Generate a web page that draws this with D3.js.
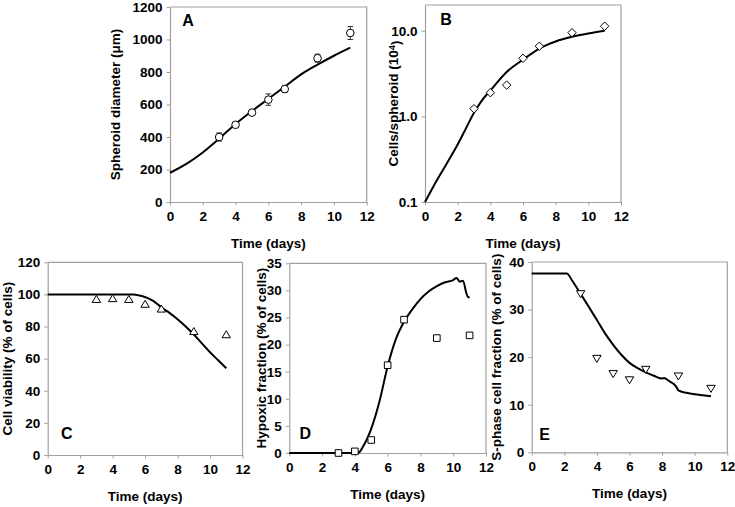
<!DOCTYPE html>
<html>
<head>
<meta charset="utf-8">
<script src="https://cdn.jsdelivr.net/npm/d3@7"></script>
<style>
  html, body { margin: 0; padding: 0; background: #fff; }
  svg text { font-family: "Liberation Sans", Arial, sans-serif; font-weight: bold; fill: #000; }
</style>
</head>
<body>
<svg id="chart" width="735" height="507"></svg>
<script>
// ---------------- DATA ----------------
const obsDays = [3, 4, 5, 6, 7, 9, 11];

// Panel A: spheroid diameter (µm)
const diameterObs = [400, 475, 550, 630, 695, 885, 1040];
const diameterErr = [25, 10, 12, 35, 20, 25, 40];
const diameterModelT = [0, 1, 2, 3, 4, 5, 6, 7, 8, 9, 10, 11];
const diameterModel = [180, 235, 305, 390, 480, 560, 635, 710, 785, 845, 900, 950];

// Panel B: cells per spheroid (10^4)
const cellsObs = [1.23, 1.89, 2.32, 4.77, 6.6, 9.5, 11.3];
const cellsModelT = [0, 0.5, 1, 1.5, 2, 2.5, 3, 3.5, 4, 5, 6, 7, 8, 9, 10, 11];
const cellsModel = [0.1, 0.15, 0.22, 0.32, 0.47, 0.72, 1.1, 1.55, 2.0, 3.3, 4.6, 6.2, 7.5, 8.5, 9.3, 10.0];

// Panel C: cell viability (% of cells)
const viabilityObs = [97, 97.5, 97, 94, 91, 77, 75];
const viabilityModelT = [0, 5.3, 5.8, 6.5, 7, 7.5, 8, 8.5, 9, 9.5, 10, 10.5, 11];
const viabilityModel = [100, 100, 99, 96, 92, 88.5, 84.5, 80, 75, 69.5, 64, 59, 54];

// Panel D: hypoxic fraction (% of cells)
const hypoxicObs = [0, 0.3, 2.4, 16.2, 24.6, 21.2, 21.7];
const hypoxicModelT = [0, 4.2, 4.5, 5, 5.5, 6, 6.5, 7, 7.5, 8, 8.5, 9, 9.5, 10, 10.2, 10.4, 10.6, 10.8, 10.9, 11];
const hypoxicModel = [0, 0, 1.2, 4.5, 9.5, 16, 21, 24.2, 26.5, 28.4, 29.8, 30.8, 31.5, 31.9, 32.3, 31.6, 31.8, 29.5, 28.8, 28.7];

// Panel E: S-phase cell fraction (% of cells)
const sphaseObs = [33.3, 19.7, 16.5, 15.2, 17.4, 16.0, 13.4];
const sphaseModelT = [0, 2.15, 2.5, 3, 3.5, 4, 4.5, 5, 5.5, 6, 6.5, 7, 7.5, 8, 8.1, 8.3, 8.5, 8.7, 8.9, 9, 9.5, 10, 10.5, 11];
const sphaseModel = [37.6, 37.6, 36, 33.3, 30.6, 27.8, 25, 22.6, 20.5, 18.8, 17.7, 16.8, 16.1, 15.5, 15.6, 15.3, 14.8, 14.4, 13.6, 13.0, 12.5, 12.2, 12.0, 11.8];

// Tick values
const timeTicks = [0, 2, 4, 6, 8, 10, 12];
const diameterTicks = [0, 200, 400, 600, 800, 1000, 1200];
const cellsTicks = [0.1, 1, 10];
const viabilityTicks = [0, 20, 40, 60, 80, 100, 120];
const hypoxicTicks = [0, 5, 10, 15, 20, 25, 30, 35];
const sphaseTicks = [0, 10, 20, 30, 40];

// ---------------- LAYOUT ----------------
const panels = [
  { letter: "A", x0: 170, x1: 366.7, y0: 7, y1: 202, log: false, yDomain: [0, 1200], yTicks: diameterTicks,
    fmt: d3.format("d"), ylab: "Spheroid diameter (\u03bcm)", ylabX: -55, letterPos: [18, 13],
    obs: diameterObs, err: diameterErr, mt: diameterModelT, mv: diameterModel, marker: "circle" },
  { letter: "B", x0: 425, x1: 621, y0: 5, y1: 202, log: true, yDomain: [0.1, 20], yTicks: cellsTicks,
    fmt: d3.format(".1f"), ylab: "Cells/spheroid (10", sup: "4", ylabX: -31.5, letterPos: [21, 14],
    obs: cellsObs, mt: cellsModelT, mv: cellsModel, marker: "diamond" },
  { letter: "C", x0: 47.7, x1: 242.5, y0: 262.3, y1: 455, log: false, yDomain: [0, 120], yTicks: viabilityTicks,
    fmt: d3.format("d"), ylab: "Cell viability (% of cells)", ylabX: -40.7, letterPos: [19, -22],
    obs: viabilityObs, mt: viabilityModelT, mv: viabilityModel, marker: "triUp" },
  { letter: "D", x0: 289.3, x1: 486, y0: 263.3, y1: 453, log: false, yDomain: [0, 35], yTicks: hypoxicTicks,
    fmt: d3.format("d"), ylab: "Hypoxic fraction (% of cells)", ylabX: -28.3, letterPos: [16, -20],
    obs: hypoxicObs, mt: hypoxicModelT, mv: hypoxicModel, marker: "square" },
  { letter: "E", x0: 531.7, x1: 727.3, y0: 262, y1: 452.3, log: false, yDomain: [0, 40], yTicks: sphaseTicks,
    fmt: d3.format("d"), ylab: "S-phase cell fraction (% of cells)", ylabX: -35.7, letterPos: [13, -18],
    obs: sphaseObs, mt: sphaseModelT, mv: sphaseModel, marker: "triDown" }
];

const svg = d3.select("#chart");
const gray = "#a0a0a0";
const fs = 13.5;

function markerPath(type) {
  const p = d3.path();
  if (type === "diamond") { p.moveTo(0, -4.2); p.lineTo(4.2, 0); p.lineTo(0, 4.2); p.lineTo(-4.2, 0); p.closePath(); }
  else if (type === "triUp") { p.moveTo(0, -3.8); p.lineTo(4.2, 3.2); p.lineTo(-4.2, 3.2); p.closePath(); }
  else if (type === "triDown") { p.moveTo(0, 3.8); p.lineTo(4.2, -3.2); p.lineTo(-4.2, -3.2); p.closePath(); }
  else if (type === "square") { p.rect(-3.3, -3.3, 6.6, 6.6); }
  return p.toString();
}

panels.forEach(P => {
  const x = d3.scaleLinear().domain([0, 12]).range([P.x0, P.x1]);
  const y = (P.log ? d3.scaleLog() : d3.scaleLinear()).domain(P.yDomain).range([P.y1, P.y0]);
  const g = svg.append("g");

  // box (top and right borders)
  g.append("path")
    .attr("d", `M${P.x0},${P.y0}H${P.x1}V${P.y1}`)
    .attr("fill", "none").attr("stroke", gray).attr("stroke-width", 1.2);

  // x axis
  const xa = g.append("g").attr("transform", `translate(0,${P.y1})`)
    .call(d3.axisBottom(x).tickValues(timeTicks).tickSize(3.5).tickSizeOuter(0).tickPadding(6).tickFormat(d3.format("d")));
  // y axis
  const ya = g.append("g").attr("transform", `translate(${P.x0},0)`)
    .call(d3.axisLeft(y).tickValues(P.yTicks).tickSize(3.5).tickSizeOuter(0).tickPadding(4).tickFormat(P.fmt));
  [xa, ya].forEach(a => {
    a.select(".domain").attr("stroke", gray).attr("stroke-width", 1.2);
    a.selectAll(".tick line").attr("stroke", gray).attr("stroke-width", 1);
    a.selectAll(".tick text").style("font-size", fs + "px").style("font-weight", "bold")
      .style("font-family", '"Liberation Sans", Arial, sans-serif').attr("fill", "#000");
  });

  // x-axis title
  g.append("text").attr("x", (P.x0 + P.x1) / 2).attr("y", P.y1 + 46)
    .attr("text-anchor", "middle").style("font-size", fs + "px").text("Time (days)");

  // y-axis title
  const yt = g.append("text")
    .attr("transform", `translate(${P.x0 + P.ylabX},${(P.y0 + P.y1) / 2}) rotate(-90)`)
    .attr("text-anchor", "middle").attr("dy", "0.36em").style("font-size", fs + "px");
  yt.append("tspan").text(P.ylab);
  if (P.sup) {
    yt.append("tspan").attr("dy", "-0.4em").style("font-size", "9.5px").text(P.sup);
    yt.append("tspan").attr("dy", "0.4em").text(")");
  }

  // panel letter
  const ly = P.letterPos[1] > 0 ? P.y0 + P.letterPos[1] : P.y1 + P.letterPos[1];
  g.append("text").attr("x", P.x0 + P.letterPos[0]).attr("y", ly)
    .attr("text-anchor", "middle").attr("dy", "0.36em").style("font-size", "16px").text(P.letter);

  // model line
  const line = d3.line().curve(d3.curveMonotoneX).x(d => x(d[0])).y(d => y(d[1]));
  g.append("path").datum(P.mt.map((t, i) => [t, P.mv[i]]))
    .attr("d", line).attr("fill", "none").attr("stroke", "#000").attr("stroke-width", 2);

  // error bars
  if (P.err) {
    obsDays.forEach((t, i) => {
      const cx = x(t), yl = y(P.obs[i] - P.err[i]), yh = y(P.obs[i] + P.err[i]);
      g.append("path").attr("d", `M${cx},${yl}V${yh}M${cx - 2.8},${yl}H${cx + 2.8}M${cx - 2.8},${yh}H${cx + 2.8}`)
        .attr("stroke", "#333").attr("stroke-width", 1).attr("fill", "none");
    });
  }

  // observed markers
  const pts = obsDays.map((t, i) => [t, P.obs[i]]);
  if (P.marker === "circle") {
    g.selectAll("circle.obs").data(pts).join("circle").attr("class", "obs")
      .attr("cx", d => x(d[0])).attr("cy", d => y(d[1])).attr("r", 3.8)
      .attr("fill", "#fff").attr("stroke", "#000").attr("stroke-width", 1);
  } else {
    g.selectAll("path.obs").data(pts).join("path").attr("class", "obs")
      .attr("transform", d => `translate(${x(d[0])},${y(d[1])})`)
      .attr("d", markerPath(P.marker))
      .attr("fill", "#fff").attr("stroke", "#000").attr("stroke-width", 1);
  }
});
</script>
</body>
</html>
